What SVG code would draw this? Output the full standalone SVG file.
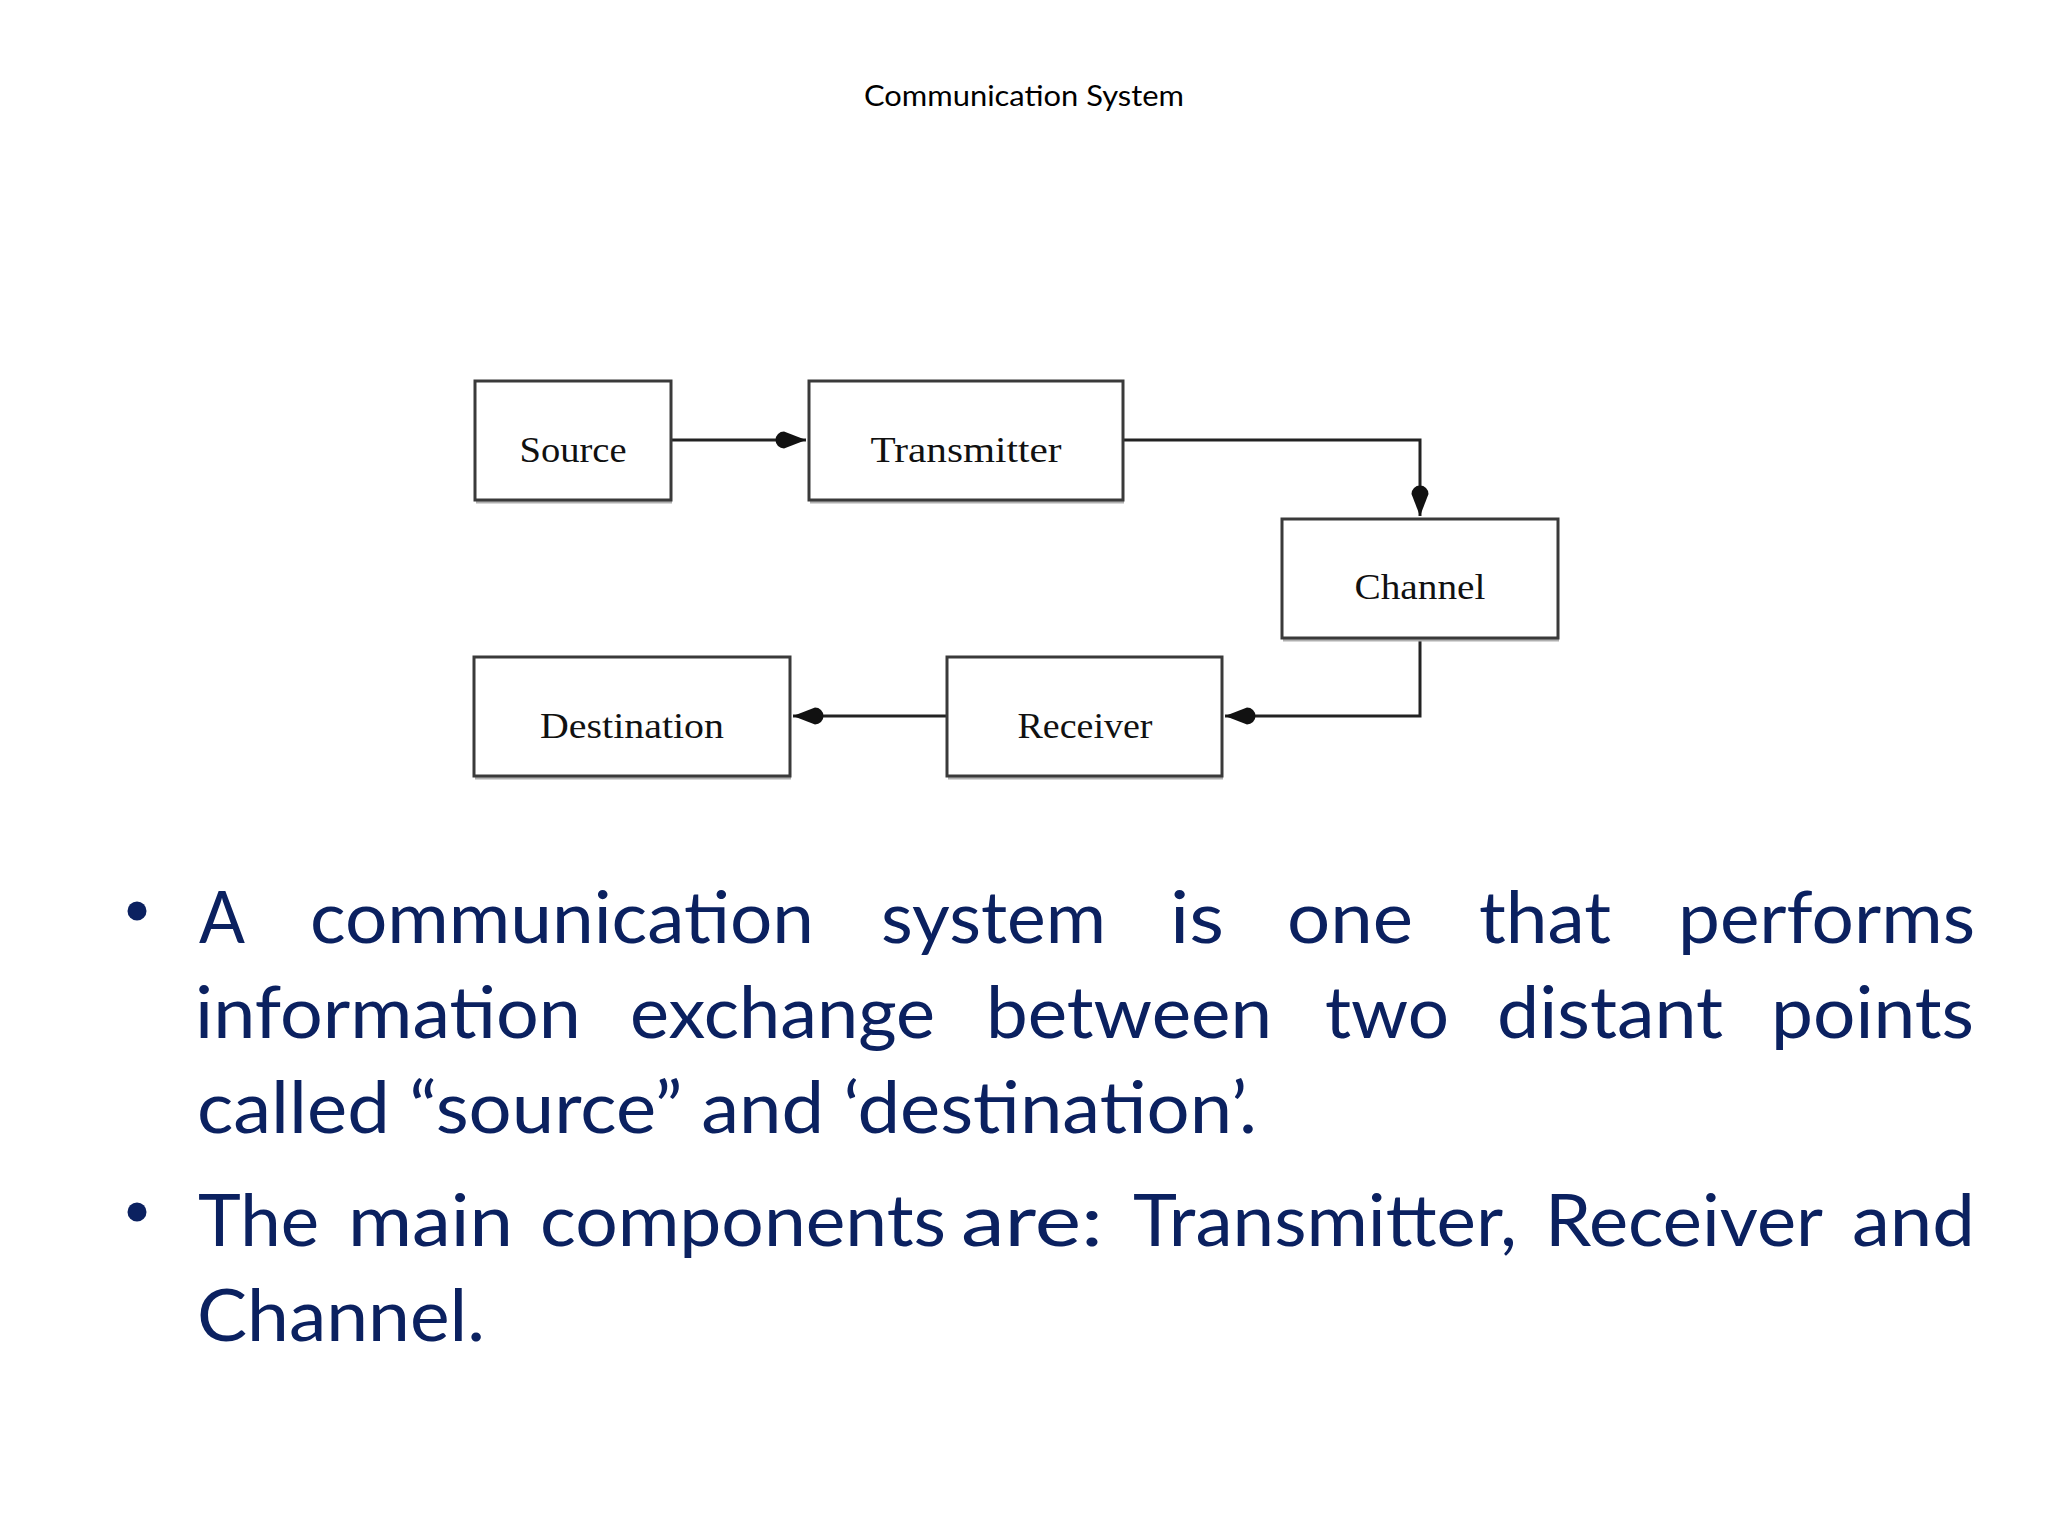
<svg xmlns="http://www.w3.org/2000/svg" width="2048" height="1536" viewBox="0 0 2048 1536">
<style>
.box{fill:#fff;stroke:#3a3a3a;stroke-width:3}
.shadow{stroke:#b0b0b0;stroke-width:3;fill:none}
.lbl{font-family:"Liberation Serif","Times New Roman",serif;font-size:36px;fill:#111;text-anchor:middle}
.conn{fill:none;stroke:#222;stroke-width:3}
.title{font-family:Lato,"Open Sans",sans-serif;font-size:29px;fill:#000;text-anchor:middle}
.body{font-family:Lato,"Open Sans",sans-serif;font-size:72px;fill:#0b2160}
</style>
<defs>
<marker id="ah" markerUnits="userSpaceOnUse" markerWidth="44" markerHeight="24" viewBox="-36 -12 38 24" refX="0" refY="0" orient="auto">
<path d="M0,0 L-22,-8.5 A8.5,8.5 0 0 0 -22,8.5 Z" fill="#111"/>
</marker>
</defs>
<rect width="2048" height="1536" fill="#fff"/>
<text class="title" x="1024" y="106" textLength="320" lengthAdjust="spacingAndGlyphs">Communication System</text>

<g id="connectors">
<path class="conn" d="M671,440 H806" marker-end="url(#ah)"/>
<path class="conn" d="M1123,440 H1420 V516" marker-end="url(#ah)"/>
<path class="conn" d="M1420,638 V716 H1225" marker-end="url(#ah)"/>
<path class="conn" d="M947,716 H793" marker-end="url(#ah)"/>
</g>

<g id="source">
<line class="shadow" x1="476" y1="502" x2="672" y2="502"/>
<rect class="box" x="475" y="381" width="196" height="119"/>
<text class="lbl" x="573" y="462" textLength="107" lengthAdjust="spacingAndGlyphs">Source</text>
</g>
<g id="transmitter">
<line class="shadow" x1="810" y1="502" x2="1124" y2="502"/>
<rect class="box" x="809" y="381" width="314" height="119"/>
<text class="lbl" x="966" y="462" textLength="191" lengthAdjust="spacingAndGlyphs">Transmitter</text>
</g>
<g id="channel">
<line class="shadow" x1="1283" y1="640" x2="1559" y2="640"/>
<rect class="box" x="1282" y="519" width="276" height="119"/>
<text class="lbl" x="1420" y="599" textLength="131" lengthAdjust="spacingAndGlyphs">Channel</text>
</g>
<g id="destination">
<line class="shadow" x1="475" y1="778" x2="791" y2="778"/>
<rect class="box" x="474" y="657" width="316" height="119"/>
<text class="lbl" x="632" y="738" textLength="184" lengthAdjust="spacingAndGlyphs">Destination</text>
</g>
<g id="receiver">
<line class="shadow" x1="948" y1="778" x2="1223" y2="778"/>
<rect class="box" x="947" y="657" width="275" height="119"/>
<text class="lbl" x="1085" y="738" textLength="135" lengthAdjust="spacingAndGlyphs">Receiver</text>
</g>

<g id="bullets">
<circle cx="137" cy="911" r="9.5" fill="#0b2160"/>
<text class="body" x="199" y="943" textLength="46" lengthAdjust="spacingAndGlyphs">A</text>
<text class="body" x="310" y="943" textLength="504" lengthAdjust="spacingAndGlyphs">communication</text>
<text class="body" x="881" y="943" textLength="225" lengthAdjust="spacingAndGlyphs">system</text>
<text class="body" x="1170" y="943" textLength="54" lengthAdjust="spacingAndGlyphs">is</text>
<text class="body" x="1287" y="943" textLength="126" lengthAdjust="spacingAndGlyphs">one</text>
<text class="body" x="1479" y="943" textLength="132" lengthAdjust="spacingAndGlyphs">that</text>
<text class="body" x="1678" y="943" textLength="297" lengthAdjust="spacingAndGlyphs">performs</text>
<text class="body" x="195" y="1038" textLength="386" lengthAdjust="spacingAndGlyphs">information</text>
<text class="body" x="630" y="1038" textLength="305" lengthAdjust="spacingAndGlyphs">exchange</text>
<text class="body" x="986" y="1038" textLength="286" lengthAdjust="spacingAndGlyphs">between</text>
<text class="body" x="1325" y="1038" textLength="124" lengthAdjust="spacingAndGlyphs">two</text>
<text class="body" x="1497" y="1038" textLength="226" lengthAdjust="spacingAndGlyphs">distant</text>
<text class="body" x="1771" y="1038" textLength="203" lengthAdjust="spacingAndGlyphs">points</text>
<text class="body" x="197" y="1133" textLength="1060" lengthAdjust="spacingAndGlyphs">called “source” and ‘destination’.</text>
<circle cx="137" cy="1212" r="9.5" fill="#0b2160"/>
<text class="body" x="198" y="1246" textLength="121" lengthAdjust="spacingAndGlyphs">The</text>
<text class="body" x="348" y="1246" textLength="165" lengthAdjust="spacingAndGlyphs">main</text>
<text class="body" x="540" y="1246" textLength="406" lengthAdjust="spacingAndGlyphs">components</text>
<text class="body" x="961" y="1246" textLength="142" lengthAdjust="spacingAndGlyphs">are:</text>
<text class="body" x="1133" y="1246" textLength="384" lengthAdjust="spacingAndGlyphs">Transmitter,</text>
<text class="body" x="1545" y="1246" textLength="278" lengthAdjust="spacingAndGlyphs">Receiver</text>
<text class="body" x="1852" y="1246" textLength="123" lengthAdjust="spacingAndGlyphs">and</text>
<text class="body" x="197" y="1341" textLength="288" lengthAdjust="spacingAndGlyphs">Channel.</text>
</g>
</svg>
